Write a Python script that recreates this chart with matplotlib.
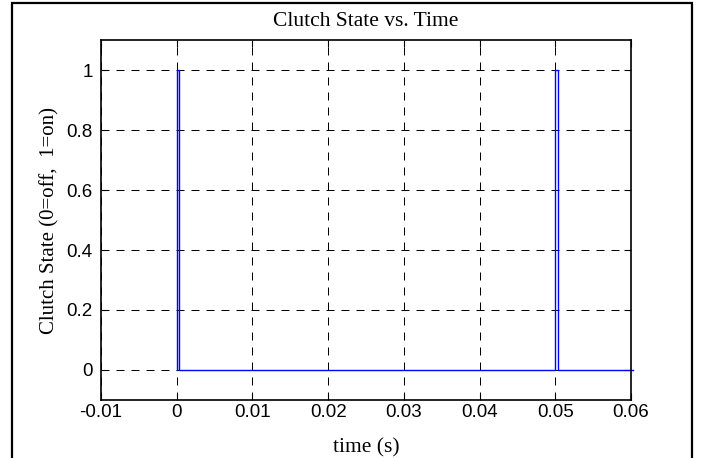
import matplotlib
matplotlib.use("Agg")
import matplotlib.pyplot as plt
from matplotlib.patches import Rectangle

# clutch on/off pulses (time in s, state 0/1)
time_s = [0.0, 0.0, 0.00035, 0.00035, 0.05, 0.05, 0.05035, 0.05035, 0.0602]
clutch_state = [0, 1, 1, 0, 0, 1, 1, 0, 0]

xticks = [-0.01, 0, 0.01, 0.02, 0.03, 0.04, 0.05, 0.06]
xtick_labels = ["-0.01", "0", "0.01", "0.02", "0.03", "0.04", "0.05", "0.06"]
yticks = [0, 0.2, 0.4, 0.6, 0.8, 1]
ytick_labels = ["0", "0.2", "0.4", "0.6", "0.8", "1"]

serif = ["Liberation Serif", "DejaVu Serif"]
sans = ["Liberation Sans", "DejaVu Sans"]

fig = plt.figure(figsize=(7.01, 4.58), dpi=100)
W, H = 701, 458
ax = fig.add_axes([101 / W, 1 - 400 / H, 530 / W, 360 / H])

ax.plot(time_s, clutch_state, color="#0000ff", lw=1.0, clip_on=False)
ax.set_xlim(-0.01, 0.06)
ax.set_ylim(-0.1, 1.1)

ax.set_xticks(xticks)
ax.set_xticklabels(xtick_labels, family=sans, fontsize=13.5)
ax.set_yticks(yticks)
ax.set_yticklabels(ytick_labels, family=sans, fontsize=13.5)
ax.tick_params(direction="in", length=5, width=0.8, top=True, right=True,
               color="black")
ax.tick_params(axis="x", pad=3)
ax.tick_params(axis="y", pad=6)

ax.grid(True, color="black", lw=0.72, linestyle=(0, (8, 7)))
ax.set_axisbelow(True)
for s in ax.spines.values():
    s.set_linewidth(1.2)

ax.set_title("Clutch State vs. Time", family=serif, fontsize=15.5, pad=10)
ax.set_xlabel("time (s)", family=serif, fontsize=15.5, labelpad=12)
ax.set_ylabel("Clutch State (0=off,  1=on)", family=serif, fontsize=15, labelpad=5)

# outer frame around the figure, cut off at the bottom
frame = Rectangle((12 / W, -0.05), 680 / W, 1.05 - 3 / H, transform=fig.transFigure,
                  fill=False, edgecolor="black", lw=1.6, clip_on=False)
fig.patches.append(frame)

fig.savefig("out.png", dpi=100)
